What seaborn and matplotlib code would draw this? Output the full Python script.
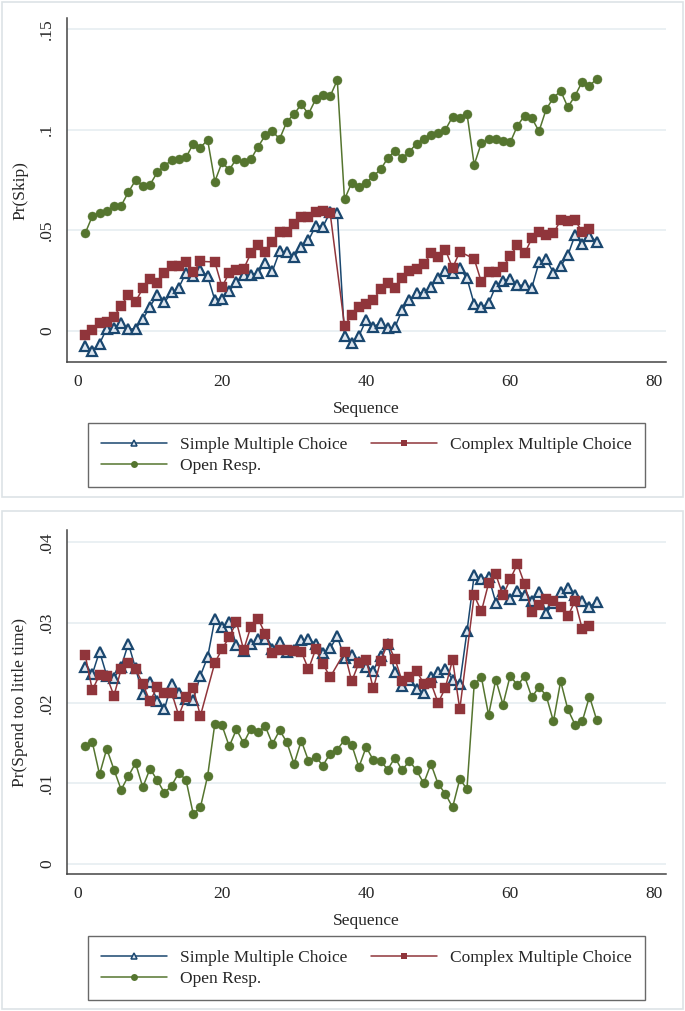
import pandas as pd
import seaborn as sns
import matplotlib.pyplot as plt
from matplotlib.lines import Line2D
from matplotlib.patches import Rectangle

# sequence positions; complex MC items are absent at every 18th position
seq = list(range(1, 73))
seq_complex = [s for s in seq if s % 18 != 0]

series_names = ["Simple Multiple Choice", "Complex Multiple Choice", "Open Resp."]

skip_simple = [-0.0075, -0.0098, -0.0063, 0.0012, 0.0015, 0.0041, 0.0008, 0.0012, 0.0058, 0.0121,
               0.0180, 0.0142, 0.0192, 0.0215, 0.0290, 0.0273, 0.0303, 0.0273, 0.0154, 0.0161,
               0.0200, 0.0243, 0.0278, 0.0278, 0.0290, 0.0339, 0.0298, 0.0396, 0.0392, 0.0369,
               0.0416, 0.0450, 0.0523, 0.0518, 0.0590, 0.0588, -0.0025, -0.0058, -0.0025, 0.0055,
               0.0022, 0.0038, 0.0013, 0.0018, 0.0104, 0.0154, 0.0190, 0.0190, 0.0220, 0.0262,
               0.0300, 0.0286, 0.0311, 0.0262, 0.0134, 0.0118, 0.0137, 0.0224, 0.0250, 0.0258,
               0.0227, 0.0227, 0.0215, 0.0341, 0.0356, 0.0290, 0.0323, 0.0376, 0.0477, 0.0430,
               0.0474, 0.0444]
skip_complex = [-0.0018, 0.0005, 0.0038, 0.0045, 0.0071, 0.0126, 0.0179, 0.0146, 0.0212, 0.0260,
                0.0240, 0.0290, 0.0323, 0.0325, 0.0344, 0.0291, 0.0346,
                0.0343, 0.0219, 0.0290, 0.0303, 0.0308, 0.0386, 0.0425, 0.0394, 0.0444, 0.0490,
                0.0493, 0.0530, 0.0568, 0.0568, 0.0593, 0.0596, 0.0588,
                0.0026, 0.0078, 0.0121, 0.0134, 0.0154, 0.0207, 0.0237, 0.0215, 0.0262, 0.0298,
                0.0308, 0.0331, 0.0386, 0.0369, 0.0404, 0.0313, 0.0394,
                0.0359, 0.0243, 0.0291, 0.0291, 0.0316, 0.0373, 0.0425, 0.0386, 0.0460, 0.0492,
                0.0475, 0.0485, 0.0551, 0.0545, 0.0551, 0.0493, 0.0505]
skip_open = [0.0485, 0.0571, 0.0588, 0.0596, 0.0619, 0.0623, 0.0690, 0.0750, 0.0722, 0.0727,
             0.0788, 0.0821, 0.0849, 0.0853, 0.0863, 0.0930, 0.0912, 0.0950, 0.0743, 0.0838,
             0.0801, 0.0856, 0.0839, 0.0853, 0.0916, 0.0972, 0.0992, 0.0955, 0.1041, 0.1078,
             0.1127, 0.1079, 0.1152, 0.1174, 0.1167, 0.1247, 0.0654, 0.0737, 0.0717, 0.0737,
             0.0770, 0.0803, 0.0859, 0.0896, 0.0859, 0.0891, 0.0932, 0.0955, 0.0972, 0.0982,
             0.1000, 0.1065, 0.1061, 0.1081, 0.0826, 0.0935, 0.0952, 0.0952, 0.0942, 0.0937,
             0.1020, 0.1071, 0.1058, 0.0993, 0.1103, 0.1159, 0.1194, 0.1113, 0.1169, 0.1240,
             0.1217, 0.1255]

time_simple = [0.0245, 0.0236, 0.0264, 0.0234, 0.0231, 0.0245, 0.0274, 0.0243, 0.0211, 0.0226,
               0.0203, 0.0192, 0.0224, 0.0213, 0.0205, 0.0204, 0.0234, 0.0257, 0.0304, 0.0295,
               0.0301, 0.0272, 0.0265, 0.0274, 0.0279, 0.0280, 0.0267, 0.0276, 0.0264, 0.0266,
               0.0278, 0.0279, 0.0274, 0.0262, 0.0268, 0.0283, 0.0256, 0.0260, 0.0251, 0.0245,
               0.0240, 0.0259, 0.0273, 0.0239, 0.0221, 0.0229, 0.0217, 0.0212, 0.0232, 0.0238,
               0.0242, 0.0229, 0.0224, 0.0289, 0.0359, 0.0354, 0.0357, 0.0325, 0.0340, 0.0330,
               0.0340, 0.0334, 0.0327, 0.0338, 0.0312, 0.0324, 0.0338, 0.0343, 0.0334, 0.0327,
               0.0320, 0.0326]
time_complex = [0.0260, 0.0216, 0.0235, 0.0233, 0.0209, 0.0242, 0.0250, 0.0242, 0.0224, 0.0202,
                0.0220, 0.0213, 0.0213, 0.0184, 0.0208, 0.0218, 0.0184,
                0.0250, 0.0267, 0.0282, 0.0301, 0.0266, 0.0295, 0.0305, 0.0286, 0.0262, 0.0266,
                0.0266, 0.0265, 0.0264, 0.0242, 0.0267, 0.0249, 0.0232,
                0.0263, 0.0227, 0.0250, 0.0254, 0.0218, 0.0252, 0.0274, 0.0255, 0.0227, 0.0232,
                0.0240, 0.0224, 0.0225, 0.0200, 0.0219, 0.0254, 0.0192,
                0.0334, 0.0314, 0.0349, 0.0360, 0.0334, 0.0354, 0.0373, 0.0348, 0.0313, 0.0322,
                0.0330, 0.0327, 0.0320, 0.0308, 0.0327, 0.0292, 0.0296]
time_open = [0.0146, 0.0151, 0.0111, 0.0143, 0.0117, 0.0092, 0.0109, 0.0125, 0.0095, 0.0118,
             0.0104, 0.0088, 0.0097, 0.0113, 0.0104, 0.0062, 0.0070, 0.0109, 0.0174, 0.0172,
             0.0146, 0.0167, 0.0150, 0.0168, 0.0164, 0.0171, 0.0149, 0.0166, 0.0151, 0.0124,
             0.0153, 0.0128, 0.0133, 0.0122, 0.0137, 0.0142, 0.0154, 0.0148, 0.0120, 0.0145,
             0.0129, 0.0128, 0.0117, 0.0132, 0.0116, 0.0128, 0.0116, 0.0100, 0.0124, 0.0099,
             0.0087, 0.0070, 0.0105, 0.0093, 0.0223, 0.0232, 0.0185, 0.0229, 0.0198, 0.0234,
             0.0222, 0.0233, 0.0207, 0.0220, 0.0209, 0.0177, 0.0227, 0.0192, 0.0173, 0.0177,
             0.0208, 0.0179]

xticks = [0, 20, 40, 60, 80]
skip_yticks = [0, 0.05, 0.1, 0.15]
skip_ylabels = ["0", ".05", ".1", ".15"]
time_yticks = [0, 0.01, 0.02, 0.03, 0.04]
time_ylabels = ["0", ".01", ".02", ".03", ".04"]

colors = ["#1a476f", "#90353b", "#55752f"]
markers = ["^", "s", "o"]
grid_color = "#e6eef1"
tri_fill = "#dfe7f0"


def make_df(simple, complex_, open_):
    parts = []
    for name, xs, ys in zip(series_names, [seq, seq_complex, seq], [simple, complex_, open_]):
        parts.append(pd.DataFrame({"Sequence": xs, "value": ys, "Type": name}))
    return pd.concat(parts, ignore_index=True)


def draw_panel(ax, df, ylabel, yticks, ylabels, ylim):
    sns.lineplot(data=df, x="Sequence", y="value", hue="Type", style="Type",
                 hue_order=series_names, style_order=series_names,
                 palette=colors, markers=markers, dashes=False, markersize=6.5,
                 linewidth=1.1, errorbar=None, legend=False, ax=ax)
    lines = ax.get_lines()
    for ln, c in zip(lines, colors):
        ln.set_markeredgecolor(c)
        ln.set_markerfacecolor(c)
        ln.set_markeredgewidth(0.3)
    lines[0].set_markerfacecolor(tri_fill)
    lines[0].set_markeredgewidth(1.6)
    lines[0].set_markersize(7)
    ax.set_xlim(-1.5, 81.6)
    ax.set_ylim(*ylim)
    ax.set_xticks(xticks)
    ax.set_xticklabels([str(t) for t in xticks])
    ax.set_yticks(yticks)
    ax.set_yticklabels(ylabels, rotation=90, va="center")
    ax.set_xlabel("Sequence", fontsize=12.5, labelpad=8)
    ax.set_ylabel(ylabel, fontsize=12.5, labelpad=8)
    ax.grid(axis="y", color=grid_color, linewidth=1.2)
    ax.grid(axis="x", visible=False)
    ax.set_axisbelow(True)
    for side in ["top", "right"]:
        ax.spines[side].set_visible(False)
    for side in ["left", "bottom"]:
        ax.spines[side].set_color("#444444")
        ax.spines[side].set_linewidth(1.1)
    ax.tick_params(axis="both", length=5, width=1, color="#444444", labelsize=12.5)


sns.set_theme(style="white")
plt.rcParams["font.family"] = ["Liberation Serif", "DejaVu Serif"]

fig = plt.figure(figsize=(6.85, 10.11), dpi=100)
fig.patch.set_facecolor("white")

# light frames around each panel
for y0, h in [(0.5085, 0.4895), (0.0015, 0.4935)]:
    fig.patches.append(Rectangle((0.003, y0), 0.994, h, transform=fig.transFigure,
                                 fill=False, edgecolor="#dde3e6", linewidth=1.2))

ax1 = fig.add_axes([0.098, 0.642, 0.874, 0.340])
ax2 = fig.add_axes([0.098, 0.1355, 0.874, 0.340])

draw_panel(ax1, make_df(skip_simple, skip_complex, skip_open), "Pr(Skip)",
           skip_yticks, skip_ylabels, (-0.0154, 0.1555))
draw_panel(ax2, make_df(time_simple, time_complex, time_open), "Pr(Spend too little time)",
           time_yticks, time_ylabels, (-0.0013, 0.0415))

handles = [
    Line2D([], [], color=colors[0], marker="^", markersize=5, markerfacecolor=tri_fill,
           markeredgecolor=colors[0], markeredgewidth=1.1, linewidth=1.1),
    Line2D([], [], color=colors[2], marker="o", markersize=5, markeredgewidth=0, linewidth=1.1),
    Line2D([], [], color=colors[1], marker="s", markersize=5, markeredgewidth=0, linewidth=1.1),
]
labels = [series_names[0], series_names[2], series_names[1]]

for y0 in [0.5183, 0.0109]:
    leg = fig.legend(handles, labels, loc="lower left", bbox_to_anchor=(0.1285, y0, 0.813, 0.0625),
                     mode="expand", ncol=2, frameon=True, fancybox=False, borderaxespad=0,
                     handlelength=3.8, handletextpad=0.75, columnspacing=2.0, fontsize=12.5,
                     labelspacing=0.3, borderpad=0.75)
    leg.get_frame().set_edgecolor("#444444")
    leg.get_frame().set_linewidth(1.0)

fig.savefig("out.png", dpi=100)
